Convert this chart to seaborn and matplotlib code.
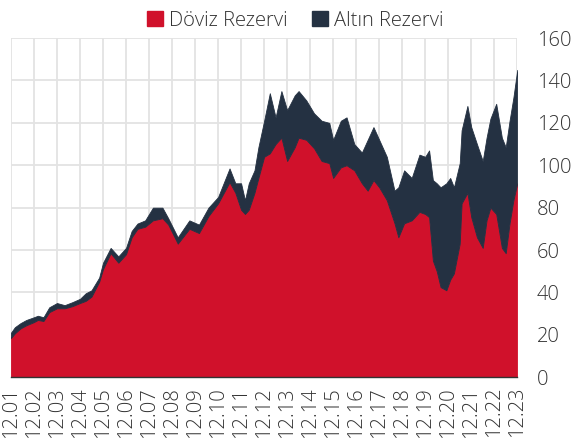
import pandas as pd
import seaborn as sns
import matplotlib.pyplot as plt
import matplotlib.dates as mdates
from matplotlib.patches import Patch

# Veriler (milyar $) - grafikten okunan yaklaşık değerler
tarih = ['2001-12', '2002-02', '2002-05', '2002-08', '2002-12', '2003-02', '2003-05',
         '2003-08', '2003-12', '2004-04', '2004-08', '2004-12', '2005-03', '2005-06',
         '2005-10', '2005-12', '2006-04', '2006-08', '2006-12', '2007-03', '2007-06',
         '2007-10', '2008-02', '2008-07', '2008-10', '2009-03', '2009-09', '2010-02',
         '2010-07', '2010-12', '2011-06', '2011-09', '2011-12', '2012-02', '2012-04',
         '2012-07', '2012-09', '2012-12', '2013-03', '2013-06', '2013-09', '2013-12',
         '2014-04', '2014-06', '2014-10', '2015-02', '2015-06', '2015-10', '2015-12',
         '2016-04', '2016-07', '2016-11', '2017-03', '2017-06', '2017-09', '2017-12',
         '2018-04', '2018-08', '2018-10', '2019-01', '2019-05', '2019-09', '2019-12',
         '2020-02', '2020-04', '2020-06', '2020-08', '2020-11', '2021-01', '2021-03',
         '2021-06', '2021-07', '2021-10', '2021-12', '2022-03', '2022-06', '2022-08',
         '2022-10', '2023-01', '2023-04', '2023-06', '2023-08', '2023-10', '2023-12']

doviz = [18.5, 20.7, 23, 24.5, 26, 27, 26.5, 30.7, 32.5, 32.5, 33.5, 35, 36, 38,
         45, 51, 58.5, 54, 58, 66, 70, 71, 74, 75, 72, 63, 70, 68, 76, 82, 92, 87,
         79, 77, 79, 87, 94, 104, 105.6, 110, 113, 102, 108.5, 113, 112, 108, 102,
         101, 94, 99, 100, 97.6, 91.5, 88, 93, 89.6, 83.5, 72.6, 66, 72.6, 74, 78,
         77, 75.5, 55, 50, 42.5, 41, 46, 49, 63, 82, 87, 75.5, 66, 61, 74, 80, 77,
         61, 58.5, 72.6, 83.5, 91.5]

toplam = [21, 23.6, 25.5, 27, 28.3, 29, 28.3, 33, 35, 34, 35.4, 37, 39.6, 41, 47,
          54, 61, 57, 61, 69, 72.5, 74, 80, 80, 75, 66, 74, 72, 80, 85, 98.5, 91.5,
          91.5, 83.5, 91.5, 97.6, 108.5, 121, 134, 122.6, 135, 126, 133, 135, 130.6,
          124.5, 121, 120, 112, 121, 122.6, 110, 106, 112, 118, 112, 104, 88, 89.6,
          97.6, 94, 105, 104, 107, 93, 91.5, 89.6, 91.5, 94, 89.6, 101, 116.5, 128,
          118, 110, 102, 113, 122, 129, 113, 108.5, 121, 132, 145]

altin = [t - d for t, d in zip(toplam, doviz)]

df = pd.DataFrame({'tarih': pd.to_datetime(tarih), 'Döviz Rezervi': doviz,
                   'Altın Rezervi': altin})

sns.set_style('whitegrid')
plt.rcParams['font.family'] = ['Open Sans', 'DejaVu Sans']
plt.rcParams['font.weight'] = 'light'

renkler = ['#D0112B', '#243142']

fig, ax = plt.subplots(figsize=(5.76, 4.48), dpi=100)
fig.subplots_adjust(left=0.019, right=0.898, top=0.915, bottom=0.158)

ax.stackplot(df['tarih'], df['Döviz Rezervi'], df['Altın Rezervi'],
             colors=renkler, linewidth=0.6, edgecolor='face')

ax.set_ylim(0, 160)
ax.set_yticks(range(0, 161, 20))
ax.yaxis.tick_right()

yillar = pd.date_range('2001-12-01', '2023-12-01', freq='12MS')
ax.set_xlim(yillar[0], yillar[-1])
ax.set_xticks(yillar)
ax.xaxis.set_major_formatter(mdates.DateFormatter('%m.%y'))
plt.setp(ax.get_xticklabels(), rotation=90)

ax.tick_params(axis='x', length=5, width=1, color='#333333', labelsize=14.5,
               labelcolor='#333333', pad=2)
ax.tick_params(axis='y', length=0, labelsize=14.5, labelcolor='#333333', pad=14)
ax.grid(color='#e3e3e3', linewidth=1.3)
ax.set_axisbelow(True)
for s in ['top', 'left', 'right']:
    ax.spines[s].set_visible(False)
ax.spines['bottom'].set_color('#333333')
ax.spines['bottom'].set_linewidth(1)
ax.set_xlabel('')
ax.set_ylabel('')

el = [Patch(color=renkler[0], label='Döviz Rezervi'),
      Patch(color=renkler[1], label='Altın Rezervi')]
fig.legend(handles=el, loc='upper center', bbox_to_anchor=(0.513, 1.017), ncol=2,
           frameon=False, fontsize=14.5, handlelength=0.8, handleheight=0.8,
           handletextpad=0.3, columnspacing=1.2, labelcolor='#333333')

plt.savefig('out.png', dpi=100)
